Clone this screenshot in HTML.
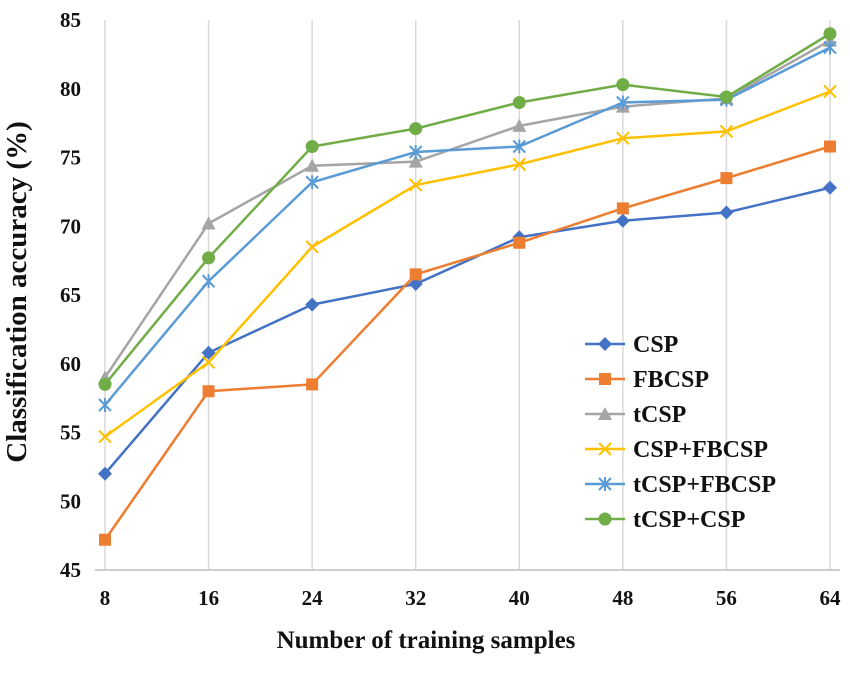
<!DOCTYPE html>
<html><head><meta charset="utf-8"><style>
body{margin:0;background:#fff;width:850px;height:669px;overflow:hidden}
text{font-family:"Liberation Serif",serif;font-weight:bold}
</style></head><body>
<svg id="chart" width="850" height="669" xmlns="http://www.w3.org/2000/svg"></svg>
<script>
const categories=[8,16,24,32,40,48,56,64];
const yTicks=[45,50,55,60,65,70,75,80,85];
const seriesNames=["CSP","FBCSP","tCSP","CSP+FBCSP","tCSP+FBCSP","tCSP+CSP"];
const cspValues=[52.0,60.8,64.3,65.8,69.2,70.4,71.0,72.8];
const fbcspValues=[47.2,58.0,58.5,66.5,68.8,71.3,73.5,75.8];
const tcspValues=[59.0,70.2,74.4,74.7,77.3,78.7,79.3,83.5];
const cspFbcspValues=[54.7,60.1,68.5,73.0,74.5,76.4,76.9,79.8];
const tcspFbcspValues=[57.0,66.0,73.2,75.4,75.8,79.0,79.2,83.0];
const tcspCspValues=[58.5,67.7,75.8,77.1,79.0,80.3,79.4,84.0];
const allSeries=[cspValues,fbcspValues,tcspValues,cspFbcspValues,tcspFbcspValues,tcspCspValues];
const colors=["#4472C4","#ED7D31","#A5A5A5","#FFC000","#5B9BD5","#70AD47"];
const markers=["diamond","square","triangle","x","star","circle"];
const svg=document.getElementById('chart');
const NS="http://www.w3.org/2000/svg";
const x0=105,x1=830,yTop=20,yBot=570;
const xs=i=>x0+i*(x1-x0)/(categories.length-1);
const ys=v=>yBot-(v-45)/(85-45)*(yBot-yTop);
function mk(tag,attrs,parent){const e=document.createElementNS(NS,tag);for(const k in attrs)e.setAttribute(k,attrs[k]);(parent||svg).appendChild(e);return e;}
categories.forEach((c,i)=>{
 const g=mk('line',{x1:xs(i),x2:xs(i),y1:yTop,y2:yBot,stroke:'#d9d9d9','stroke-width':1.5});
 
 
 const t=mk('text',{x:xs(i),y:605,'text-anchor':'middle','font-size':21,fill:'#111'});
 t.textContent=c;
 
 
});
yTicks.forEach(v=>{
 const t=mk('text',{x:81,y:ys(v)+7,'text-anchor':'end','font-size':21,fill:'#111'});
 t.textContent=v;
 
 
});
const ax=mk('line',{x1:x0-10,x2:x1+10,y1:yBot,y2:yBot,stroke:'#bfbfbf','stroke-width':1.5});


function marker(type,cx,cy,col,g){
 if(type==='diamond')mk('polygon',{points:`${cx},${cy-7} ${cx+7},${cy} ${cx},${cy+7} ${cx-7},${cy}`,fill:col},g);
 else if(type==='square')mk('rect',{x:cx-6,y:cy-6,width:12,height:12,fill:col},g);
 else if(type==='triangle')mk('polygon',{points:`${cx},${cy-7} ${cx+7},${cy+6} ${cx-7},${cy+6}`,fill:col},g);
 else if(type==='circle')mk('circle',{cx:cx,cy:cy,r:6.5,fill:col},g);
 else if(type==='x'){mk('path',{d:`M${cx-6} ${cy-6}L${cx+6} ${cy+6}M${cx+6} ${cy-6}L${cx-6} ${cy+6}`,stroke:col,'stroke-width':2},g);}
 else {mk('path',{d:`M${cx-6} ${cy-6}L${cx+6} ${cy+6}M${cx+6} ${cy-6}L${cx-6} ${cy+6}M${cx} ${cy-7}L${cx} ${cy+7}`,stroke:col,'stroke-width':2},g);}
}
allSeries.forEach((vals,s)=>{
 const g=mk('g',{});
 
 
 mk('polyline',{points:vals.map((v,i)=>xs(i)+','+ys(v)).join(' '),fill:'none',stroke:colors[s],'stroke-width':2.5},g);
 vals.forEach((v,i)=>marker(markers[s],xs(i),ys(v),colors[s],g));
});
const lg=mk('g',{});


seriesNames.forEach((n,s)=>{
 const y=344+s*35;
 const e=mk('g',{},lg);
 
 
 mk('line',{x1:585,x2:625,y1:y,y2:y,stroke:colors[s],'stroke-width':2.5},e);
 marker(markers[s],605,y,colors[s],e);
 const t=mk('text',{x:633,y:y+8,'font-size':24,fill:'#111'},e);
 t.textContent=n;
});
const xt=mk('text',{x:426,y:648,'text-anchor':'middle','font-size':25,fill:'#111'});
xt.textContent='Number of training samples';


const yt=mk('text',{x:0,y:0,'text-anchor':'middle','font-size':29,fill:'#111',transform:`translate(26,292) rotate(-90)`});
yt.textContent='Classification accuracy (%)';


</script>
</body></html>
